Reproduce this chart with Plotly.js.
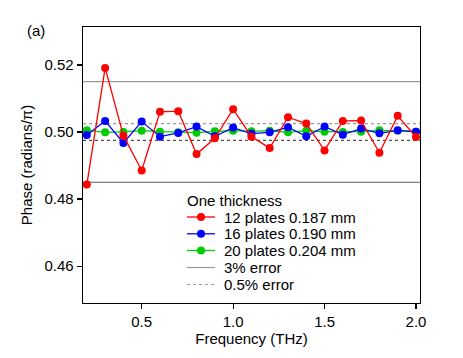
<!DOCTYPE html>
<html>
<head>
<meta charset="utf-8">
<script src="https://cdn.plot.ly/plotly-3.0.1.min.js"></script>
<style>
  html, body { margin: 0; padding: 0; background: #fff; }
  #graph { width: 463px; height: 358px; }
</style>
</head>
<body>
<div id="graph"></div>
<script>
// frequency points (THz)
var freq = [0.2, 0.3, 0.4, 0.5, 0.6, 0.7, 0.8, 0.9, 1.0, 1.1, 1.2, 1.3, 1.4, 1.5, 1.6, 1.7, 1.8, 1.9, 2.0];
// phase values (radians/pi)
var plates12 = [0.4843, 0.5191, 0.4989, 0.4885, 0.5060, 0.5062, 0.4934, 0.4981, 0.5068, 0.4986,
                0.4952, 0.5044, 0.5025, 0.4945, 0.5033, 0.5034, 0.4938, 0.5048, 0.4985];
var plates16 = [0.4991, 0.5033, 0.4967, 0.5031, 0.4986, 0.4997, 0.5016, 0.4987, 0.5013, 0.4995,
                0.4999, 0.5014, 0.4987, 0.5016, 0.4992, 0.5010, 0.4996, 0.5005, 0.5001];
var plates20 = [0.5005, 0.4999, 0.5000, 0.5004, 0.5001, 0.4999, 0.4998, 0.5002, 0.5004, 0.5002,
                0.5004, 0.4999, 0.5004, 0.5001, 0.5000, 0.5001, 0.5005, 0.5004, 0.5001];
var seriesNames = ["12 plates 0.187 mm", "16 plates 0.190 mm", "20 plates 0.204 mm"];
var seriesColors = ['#ff0000', '#0000ff', '#00cc00'];
// error bands around 0.5
var err3 = [0.515, 0.485];
var err05 = [0.5025, 0.4975];
var errNames = ['3% error', '0.5% error'];
var xRange = [0.179, 2.022];
var yRange = [0.449, 0.5313];
var xTicks = [0.5, 1.0, 1.5, 2.0];
var xTickText = ["0.5", "1.0", "1.5", "2.0"];
var yTicks = [0.46, 0.48, 0.50, 0.52];
var yTickText = ["0.46", "0.48", "0.50", "0.52"];

var font = 'Liberation Sans, Arial, sans-serif';
var W = 463, H = 358;
var M = { l: 83, r: 43, t: 27, b: 55 };
var plotW = W - M.l - M.r, plotH = H - M.t - M.b;

function dataTrace(y, name, color) {
    return {
        x: freq, y: y, name: name,
        type: 'scatter', mode: 'lines+markers',
        line: { color: color, width: 1.3 },
        marker: { color: color, size: 8 },
        showlegend: false
    };
}

function flatTrace(level, color, dash) {
    return {
        x: xRange, y: [level, level],
        type: 'scatter', mode: 'lines',
        line: { color: color, width: 1.2, dash: dash },
        showlegend: false, hoverinfo: 'skip'
    };
}

var data = [
    flatTrace(err3[0], '#9a9a9a', 'solid'),
    flatTrace(err3[1], '#5a5a5a', 'solid'),
    flatTrace(err05[0], '#9a9a9a', 'dot'),
    flatTrace(err05[1], '#505050', 'dot'),
    dataTrace(plates20, seriesNames[2], seriesColors[2]),
    dataTrace(plates16, seriesNames[1], seriesColors[1]),
    dataTrace(plates12, seriesNames[0], seriesColors[0])
];

// hand-built legend (plotly's own legend rows are too tall for this layout)
function px(xp) { return (xp - M.l) / plotW; }
function py(yp) { return (H - M.b - yp) / plotH; }
var legLeft = 185, symL = 187, symR = 215, textL = 222;
var rowY = [217, 233.8, 250.5, 267.5, 284.5];
var legShapes = [];
var legAnn = [{
    text: 'One thickness', xref: 'paper', yref: 'paper', x: px(legLeft), y: py(200),
    xanchor: 'left', yanchor: 'middle', showarrow: false,
    font: { family: font, size: 15, color: '#000' }
}];
var legRows = [
    { name: seriesNames[0], color: seriesColors[0], dash: 'solid', marker: true },
    { name: seriesNames[1], color: seriesColors[1], dash: 'solid', marker: true },
    { name: seriesNames[2], color: seriesColors[2], dash: 'solid', marker: true },
    { name: errNames[0], color: '#9a9a9a', dash: 'solid', marker: false },
    { name: errNames[1], color: '#9a9a9a', dash: 'dot', marker: false }
];
legRows.forEach(function (r, i) {
    var y = py(rowY[i]);
    legShapes.push({
        type: 'line', xref: 'paper', yref: 'paper',
        x0: px(symL), x1: px(symR), y0: y, y1: y,
        line: { color: r.color, width: r.marker ? 1.3 : 1.2, dash: r.dash }
    });
    if (r.marker) {
        var cx = (symL + symR) / 2;
        legShapes.push({
            type: 'circle', xref: 'paper', yref: 'paper',
            x0: px(cx - 4), x1: px(cx + 4), y0: py(rowY[i] + 4), y1: py(rowY[i] - 4),
            fillcolor: r.color, line: { color: r.color, width: 0 }
        });
    }
    legAnn.push({
        text: r.name, xref: 'paper', yref: 'paper', x: px(textL), y: y,
        xanchor: 'left', yanchor: 'middle', showarrow: false,
        font: { family: font, size: 15, color: '#000' }
    });
});

var axisCommon = {
    showgrid: false, zeroline: false,
    showline: true, linecolor: '#000', linewidth: 1.3, mirror: true,
    ticks: 'outside', ticklen: 5, tickwidth: 1.2, tickcolor: '#000',
    tickfont: { family: font, size: 15, color: '#000' }
};

var layout = {
    width: W, height: H,
    margin: M,
    paper_bgcolor: '#fff', plot_bgcolor: '#fff',
    font: { family: font, size: 15, color: '#000' },
    showlegend: false,
    xaxis: Object.assign({}, axisCommon, {
        range: xRange, tickvals: xTicks, ticktext: xTickText,
        title: { text: 'Frequency (THz)', font: { family: font, size: 15 }, standoff: 0 }
    }),
    yaxis: Object.assign({}, axisCommon, {
        range: yRange, tickvals: yTicks, ticktext: yTickText,
        title: { text: 'Phase (radians/\u03c0)', font: { family: font, size: 15 }, standoff: 8 }
    }),
    shapes: legShapes,
    annotations: [{
        text: '(a)', xref: 'paper', yref: 'paper', x: px(25), y: py(30),
        xanchor: 'left', yanchor: 'middle', showarrow: false,
        font: { family: font, size: 15, color: '#000' }
    }].concat(legAnn)
};

Plotly.newPlot('graph', data, layout, { staticPlot: true, displayModeBar: false });
</script>
</body>
</html>
